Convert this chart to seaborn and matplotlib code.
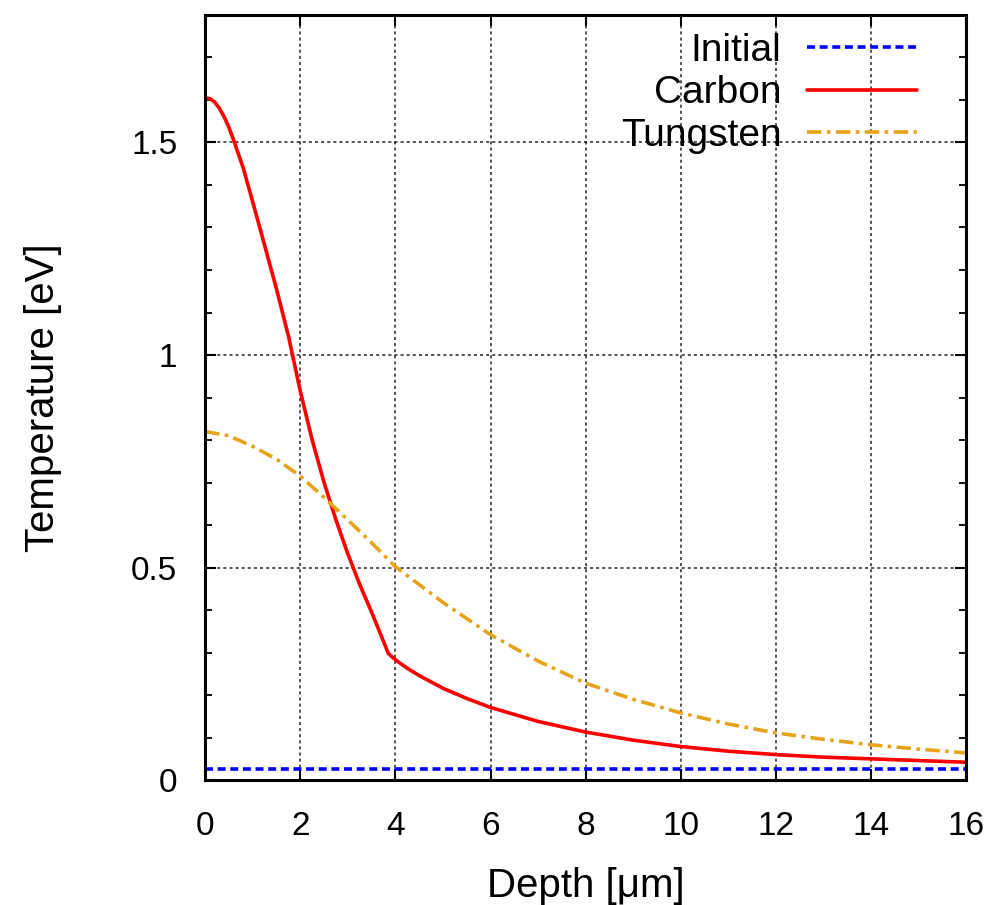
import numpy as np
import pandas as pd
import seaborn as sns
import matplotlib.pyplot as plt
from matplotlib.ticker import MultipleLocator, FixedLocator

# values
depth_initial = [0, 16]
temp_initial = [0.025, 0.025]

depth_carbon = [0, 0.1, 0.2, 0.3, 0.4, 0.5, 0.6, 0.8, 1, 1.25, 1.5, 1.75, 2,
                2.25, 2.5, 2.75, 3, 3.25, 3.5, 3.7, 3.85, 4, 4.25, 4.5, 5, 5.5,
                6, 7, 8, 9, 10, 11, 12, 13, 14, 15, 16]
temp_carbon = [1.605, 1.603, 1.595, 1.58, 1.56, 1.535, 1.505, 1.44, 1.36,
               1.258, 1.155, 1.045, 0.915, 0.80, 0.70, 0.612, 0.532, 0.46, 0.395,
               0.34, 0.298, 0.283, 0.263, 0.246, 0.216, 0.192, 0.171, 0.138,
               0.113, 0.094, 0.079, 0.068, 0.06, 0.054, 0.05, 0.046, 0.042]

depth_tungsten = [0, 0.5, 1, 1.5, 2, 2.5, 3, 3.5, 4, 5, 6, 7, 8, 9, 10, 11, 12,
                  13, 14, 15, 16]
temp_tungsten = [0.82, 0.81, 0.785, 0.755, 0.715, 0.665, 0.612, 0.558, 0.502,
                 0.418, 0.342, 0.28, 0.228, 0.19, 0.158, 0.132, 0.111, 0.096,
                 0.083, 0.073, 0.064]

x_ticks = [0, 2, 4, 6, 8, 10, 12, 14, 16]
y_ticks = [0, 0.5, 1, 1.5]
y_tick_labels = ["0", "0.5", "1", "1.5"]

sns.set_theme(style="ticks")
plt.rcParams['font.family'] = ['Liberation Sans', 'DejaVu Sans']
plt.rcParams['text.color'] = 'black'
plt.rcParams['axes.labelcolor'] = 'black'
plt.rcParams['xtick.color'] = 'black'
plt.rcParams['ytick.color'] = 'black'

fig = plt.figure(figsize=(9.96, 9.05), dpi=100)
ax = fig.add_axes([0.206, 0.138, 0.764, 0.8455])

sns.lineplot(x=depth_initial, y=temp_initial, ax=ax, color='#0000ff',
             linewidth=2.6, linestyle=(0, (2.2, 1.3)), label='Initial')
sns.lineplot(x=depth_carbon, y=temp_carbon, ax=ax, color='#ff0000',
             linewidth=2.6, linestyle='-', label='Carbon')
sns.lineplot(x=depth_tungsten, y=temp_tungsten, ax=ax, color='#e6a41b',
             linewidth=2.6, linestyle=(0, (4, 1.5, 1, 1.5)), label='Tungsten')

ax.set_xlim(0, 16)
ax.set_ylim(0, 1.8)
ax.xaxis.set_major_locator(FixedLocator(x_ticks))
ax.yaxis.set_major_locator(FixedLocator(y_ticks))
ax.set_yticklabels(y_tick_labels)
ax.yaxis.set_minor_locator(MultipleLocator(0.1))

ax.grid(True, which='major', color='black', linestyle=(0, (2, 2)),
        linewidth=1.1, alpha=0.85)
ax.set_axisbelow(True)

ax.tick_params(axis='both', which='major', direction='in', length=8, width=1.5,
               top=True, right=True, labelsize=24, color='black',
               labelcolor='black')
ax.tick_params(axis='x', pad=22)
ax.tick_params(axis='y', pad=20)
ax.tick_params(axis='y', which='minor', direction='in', length=5, width=1.3,
               left=True, right=True, color='black')

for spine in ax.spines.values():
    spine.set_linewidth(2.2)
    spine.set_color('black')

ax.set_xlabel('Depth [\u03bcm]', fontsize=29, labelpad=18, color='black')
ax.set_ylabel('Temperature [eV]', fontsize=29, labelpad=50, color='black')

leg = ax.legend(loc='upper right', bbox_to_anchor=(0.936, 0.977), frameon=False,
                markerfirst=False, fontsize=28, handlelength=2.83,
                handletextpad=0.67, labelspacing=0.17, borderaxespad=0,
                borderpad=0, labelcolor='black')

fig.savefig('out.png', dpi=100, facecolor='white')
